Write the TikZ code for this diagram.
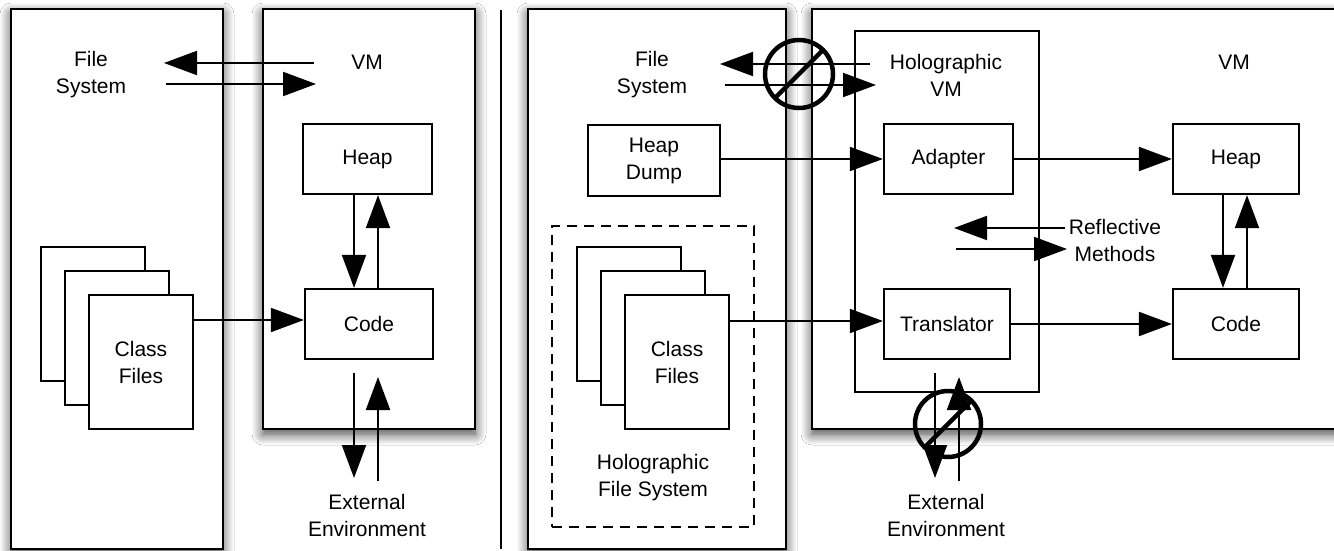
\documentclass[tikz,border=0pt]{standalone}
\usepackage{fontspec}
\setmainfont{Liberation Sans}
\usetikzlibrary{arrows.meta,shadows.blur,calc}
\begin{document}
\begin{tikzpicture}[x=1pt,y=-1pt,
  box/.style={draw, line width=2.3pt, fill=white, inner sep=0pt, font=\fontsize{21}{27}\selectfont, align=center},
  outer/.style={box, blur shadow={shadow xshift=0pt, shadow yshift=-5pt, shadow blur radius=11pt, shadow blur steps=12, shadow opacity=75}},
  lbl/.style={align=center, inner sep=0pt, font=\fontsize{21}{27}\selectfont},
  arr/.style={line width=2pt, -{Triangle[length=33pt,width=24pt]}},
  noway/.style={circle, draw, line width=4.5pt, inner sep=0pt},
  slash/.style={line width=4.5pt}
]
\useasboundingbox (0,0) rectangle (1334,551);
\clip (0,0) rectangle (1334,551);
\fill[white] (0,0) rectangle (1334,551);

% outer boxes
\node[outer, minimum width=212pt, minimum height=540pt] (sysL) at (117,279) {};
\node[outer, minimum width=212pt, minimum height=420pt] (vmL) at (369,219) {};
\draw[line width=2.3pt] (501,10) -- (501,549);
\node[outer, minimum width=258pt, minimum height=540pt] (sysR) at (657,279) {};
\node[outer, minimum width=538pt, minimum height=420pt] (vmR) at (1081,219) {};

% left side
\node[lbl] (fsL) at (91,75) {File\\System};
\node[lbl] (vmLt) at (367,62) {VM};
\node[box, minimum width=129pt, minimum height=70pt] (heapL) at (367.5,159) {Heap};
\node[box, minimum width=128pt, minimum height=70pt] (codeL) at (369,324) {Code};
\node[box, minimum width=104pt, minimum height=134pt] (cfL1) at (93,314) {};
\node[box, minimum width=104pt, minimum height=134pt] (cfL2) at (117,338) {};
\node[box, minimum width=104pt, minimum height=134pt] (cfL3) at (141,362) {Class\\Files};
\node[lbl] (extL) at (367,515) {External\\Environment};

% right side, file system
\node[lbl] (fsR) at (652,75) {File\\System};
\node[box, minimum width=132pt, minimum height=71pt] (dump) at (654,160.5) {Heap\\Dump};
\node[draw, line width=2.3pt, dash pattern=on 10pt off 7pt, minimum width=202pt, minimum height=301pt, inner sep=0pt] (hfs) at (653,376.5) {};
\node[box, minimum width=104pt, minimum height=134pt] (cfR1) at (629,314) {};
\node[box, minimum width=104pt, minimum height=134pt] (cfR2) at (653,338) {};
\node[box, minimum width=104pt, minimum height=134pt] (cfR3) at (677,362) {Class\\Files};
\node[lbl] (hfst) at (653,478) {Holographic\\File System};

% right side, VM
\node[draw, line width=2.3pt, fill=white, minimum width=184pt, minimum height=361pt, inner sep=0pt] (hvm) at (947,211.5) {};
\node[lbl] (hvmt) at (946,75) {Holographic\\VM};
\node[lbl] (vmRt) at (1234,62) {VM};
\node[box, minimum width=129pt, minimum height=70pt] (adapter) at (948.5,159) {Adapter};
\node[box, minimum width=126pt, minimum height=70pt] (trans) at (947,324) {Translator};
\node[box, minimum width=126pt, minimum height=70pt] (heapR) at (1236,159) {Heap};
\node[box, minimum width=126pt, minimum height=70pt] (codeR) at (1236,324) {Code};
\node[lbl] (refl) at (1115,240) {Reflective\\Methods};
\node[lbl] (extR) at (946,515) {External\\Environment};

% free ends
\coordinate (l1a) at (314,63);  \coordinate (l1b) at (164,63);
\coordinate (l2a) at (166,84);  \coordinate (l2b) at (316,84);
\coordinate (l3a) at (354,373); \coordinate (l3b) at (354,478);
\coordinate (l4a) at (378,481); \coordinate (l4b) at (378,377);
\coordinate (r1a) at (870,64);  \coordinate (r1b) at (720,64);
\coordinate (r2a) at (725,85);  \coordinate (r2b) at (876,85);
\coordinate (r3a) at (1065,228); \coordinate (r3b) at (954,228);
\coordinate (r4a) at (956,249); \coordinate (r4b) at (1067,249);
\coordinate (r5a) at (935,373); \coordinate (r5b) at (935,478);
\coordinate (r6a) at (959,481); \coordinate (r6b) at (959,377);

% left connectors
\draw[arr] (l1a) -- (l1b);
\draw[arr] (l2a) -- (l2b);
\draw[arr] ([xshift=-13.5pt]heapL.south) -- ([xshift=-13.5pt]heapL.south |- codeL.north);
\draw[arr] ([xshift=10.5pt]heapL.south |- codeL.north) -- ([xshift=10.5pt]heapL.south);
\draw[arr] ([yshift=42pt]cfL3.east) -- ([yshift=42pt]cfL3.east -| codeL.west);
\draw[arr] (l3a) -- (l3b);
\draw[arr] (l4a) -- (l4b);

% right connectors
\draw[arr] (r1a) -- (r1b);
\draw[arr] (r2a) -- (r2b);
\draw[arr] (dump.east |- adapter.west) -- (adapter.west);
\draw[arr] ([yshift=41pt]cfR3.east) -- ([yshift=41pt]cfR3.east -| trans.west);
\draw[arr] (adapter.east) -- (heapR.west);
\draw[arr] (trans.east) -- (codeR.west);
\draw[arr] ([xshift=-13pt]heapR.south) -- ([xshift=-13pt]heapR.south |- codeR.north);
\draw[arr] ([xshift=11pt]heapR.south |- codeR.north) -- ([xshift=11pt]heapR.south);
\draw[arr] (r3a) -- (r3b);
\draw[arr] (r4a) -- (r4b);
\draw[arr] (r5a) -- (r5b);
\draw[arr] (r6a) -- (r6b);

% blocked symbols
\node[noway, minimum size=68pt] (blk1) at (799,74) {};
\draw[slash] ($(blk1.center)+(-24,24)$) -- ($(blk1.center)+(24,-24)$);
\node[noway, minimum size=66pt] (blk2) at (948,424) {};
\draw[slash] ($(blk2.center)+(-24,24)$) -- ($(blk2.center)+(24,-24)$);
\end{tikzpicture}
\end{document}
